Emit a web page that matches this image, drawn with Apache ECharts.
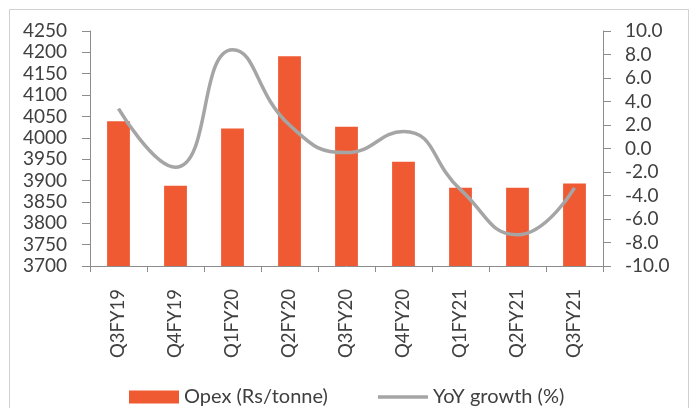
<!DOCTYPE html>
<html>
<head>
<meta charset="utf-8">
<script src="https://cdn.jsdelivr.net/npm/echarts@6/dist/echarts.min.js"></script>
<style>
html,body{margin:0;padding:0;background:#fff;}
#chart{width:696px;height:408px;}
</style>
</head>
<body>
<div id="chart"></div>
<script>
var categories = ['Q3FY19','Q4FY19','Q1FY20','Q2FY20','Q3FY20','Q4FY20','Q1FY21','Q2FY21','Q3FY21'];
var opex = [4039, 3888, 4022, 4191, 4026, 3944, 3883, 3883, 3893];
var yoyGrowth = [3.4, -1.6, 8.4, 2.0, -0.35, 1.45, -3.5, -7.35, -3.35];
var leftTicks = {min: 3700, max: 4250, interval: 50};
var rightTicks = {min: -10, max: 10, interval: 2};

var chart = echarts.init(document.getElementById('chart'), null, {renderer: 'canvas'});
var axisColor = '#8C8C8C';
var textColor = '#404040';
var font = 'Lato';

chart.setOption({
  animation: false,
  backgroundColor: '#fff',
  graphic: [{
    type: 'rect',
    shape: {x: 9.5, y: 9.5, width: 679, height: 420},
    style: {fill: 'none', stroke: '#D0D0D0', lineWidth: 1},
    silent: true
  }],
  grid: {left: 90, right: 93, top: 31, bottom: 142, containLabel: false},
  legend: {
    left: 124,
    top: 382,
    itemWidth: 50,
    itemHeight: 13,
    itemGap: 50,
    symbolKeepAspect: true,
    textStyle: {fontFamily: font, fontSize: 20, color: textColor},
    data: [
      {name: 'Opex (Rs/tonne)', icon: 'rect'},
      {name: 'YoY growth (%)', icon: 'path://M0,0 L52,0 L52,3.5 L0,3.5 Z',
       itemStyle: {color: '#A5A5A5', borderWidth: 0}, lineStyle: {width: 0}}
    ]
  },
  xAxis: {
    type: 'category',
    data: categories,
    boundaryGap: true,
    axisLine: {onZero: false, lineStyle: {color: axisColor, width: 1}},
    axisTick: {show: true, length: 6, alignWithLabel: false, lineStyle: {color: axisColor}},
    axisLabel: {rotate: 90, margin: 23, fontFamily: font, fontSize: 18.5, color: textColor, interval: 0}
  },
  yAxis: [{
    type: 'value',
    position: 'left',
    min: leftTicks.min, max: leftTicks.max, interval: leftTicks.interval,
    axisLine: {show: true, lineStyle: {color: axisColor, width: 1}},
    axisTick: {show: true, length: 8, lineStyle: {color: axisColor}},
    splitLine: {show: false},
    axisLabel: {margin: 23, fontFamily: font, fontSize: 19, color: textColor,
      formatter: function (v) { return String(v); }}
  }, {
    type: 'value',
    position: 'right',
    min: rightTicks.min, max: rightTicks.max, interval: rightTicks.interval,
    axisLine: {show: true, lineStyle: {color: axisColor, width: 1}},
    axisTick: {show: true, length: 8, lineStyle: {color: axisColor}},
    splitLine: {show: false},
    axisLabel: {margin: 22, fontFamily: font, fontSize: 19, color: textColor,
      formatter: function (v) { return v.toFixed(1); }}
  }],
  series: [{
    name: 'Opex (Rs/tonne)',
    type: 'bar',
    data: opex,
    yAxisIndex: 0,
    barWidth: '40%',
    itemStyle: {color: '#F05A33'}
  }, {
    name: 'YoY growth (%)',
    type: 'line',
    data: yoyGrowth,
    yAxisIndex: 1,
    smooth: 0.5,
    symbol: 'none',
    lineStyle: {color: '#A5A5A5', width: 3.5},
    itemStyle: {color: '#A5A5A5'}
  }]
});
</script>
</body>
</html>
